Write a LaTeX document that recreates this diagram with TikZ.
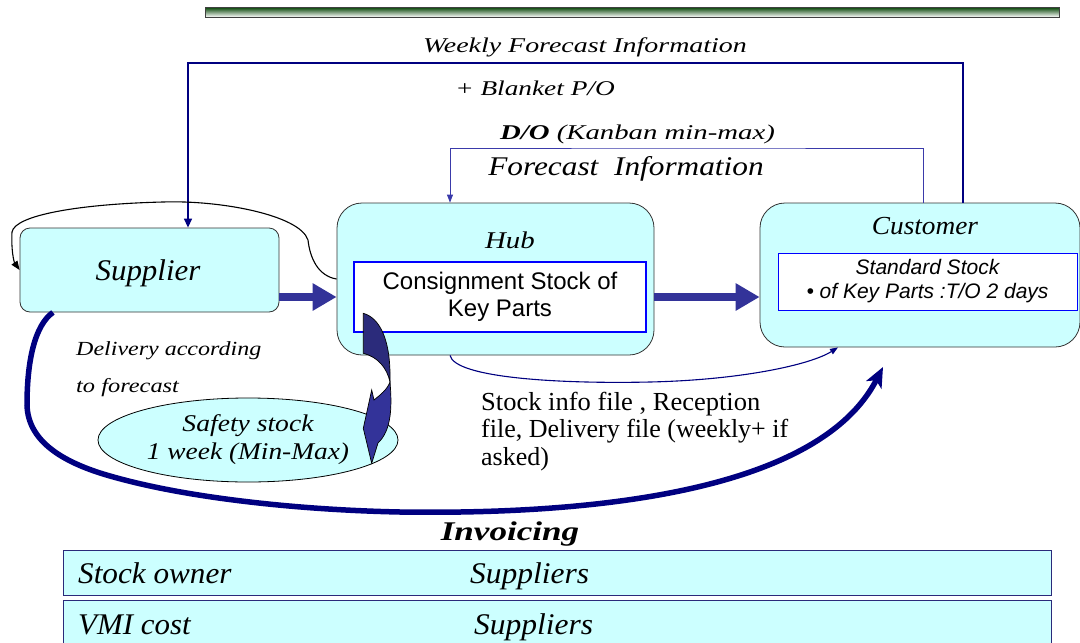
\documentclass[tikz,border=0pt]{standalone}
\usepackage{fontspec}
\usepackage{graphicx}
\setmainfont{Liberation Serif}
\setsansfont{Liberation Sans}
\usetikzlibrary{arrows.meta,shapes.geometric}

\definecolor{boxcyan}{HTML}{CCFFFF}
\definecolor{navy}{HTML}{000080}
\definecolor{fatblue}{HTML}{333399}
\definecolor{bladedark}{HTML}{2B2B7B}
\definecolor{flowblue}{HTML}{3A3AAA}
\definecolor{edgegray}{HTML}{333333}
\definecolor{rowedge}{HTML}{2A2A7A}
\definecolor{innerblue}{HTML}{0000FF}

% font size helper and horizontal widening of a label
\newcommand{\fsz}[2]{\fontsize{#1}{#2}\selectfont}
\newcommand{\widen}[2]{\scalebox{#1}[1]{#2}}

\begin{document}
\begin{tikzpicture}[x=1pt,y=-1pt,
  stage/.style={draw=edgegray, line width=0.8pt, fill=boxcyan, rounded corners=#1, inner sep=0pt},
  stage/.default=10pt,
  stockbox/.style={draw=innerblue, fill=white, inner sep=0pt},
  rowbox/.style={draw=rowedge, line width=1pt, fill=boxcyan, inner sep=0pt},
  lbl/.style={anchor=base, inner sep=0pt, font=\fsz{21}{25}\itshape},
  fat/.style={draw=fatblue, line width=8pt, -{Triangle[length=24pt,width=26pt]}},
  infoline/.style={draw=navy, line width=1.4pt, -{Triangle[length=9pt,width=8pt]}},
  doline/.style={draw=flowblue, line width=0.9pt, -{Triangle[length=8pt,width=6pt]}},
  loopline/.style={draw=black, line width=1.1pt, -{Triangle[length=9pt,width=7pt]}},
  supplyline/.style={draw=navy, line width=5.5pt, -{Stealth[length=20pt,width=17pt,inset=5pt]}},
  fileline/.style={draw=navy, line width=1.1pt, -{Triangle[length=8pt,width=6pt]}},
]
\useasboundingbox (0,0) rectangle (1080,643);
\fill[white] (0,0) rectangle (1080,643);

% title bar
\shade[top color=green!25!black, middle color=green!30!gray!45!white, bottom color=white]
  (205,7) rectangle (1059,17);
\draw[black!75, line width=0.8pt] (205,7) rectangle (1059,17);

% stages
\node[stage=10pt, minimum width=259pt, minimum height=84pt] (supplier) at (149.5,270) {};
\node[stage=25pt, minimum width=317pt, minimum height=152pt] (hub) at (495.5,279) {};
\node[stage=25pt, minimum width=320pt, minimum height=144pt] (customer) at (920,275) {};

\node[lbl, font=\fsz{30}{34}\itshape] (suplabel) at (148,280) {\widen{1.03}{Supplier}};
\node[lbl, font=\fsz{24}{28}\itshape] (hublabel) at (510,248) {\widen{1.2}{Hub}};
\node[lbl, font=\fsz{26}{30}\itshape] (custlabel) at (925,234) {\widen{1.05}{Customer}};

\node[stockbox, line width=2pt, minimum width=292pt, minimum height=70pt,
      align=center, font=\fsz{24}{27}\sffamily] (consign) at (500,297)
  {Consignment Stock of\\Key Parts};
\node[stockbox, line width=1pt, minimum width=299pt, minimum height=57pt,
      align=center, font=\fsz{21}{24}\sffamily\itshape] (stdstock) at (927.5,281.5)
  {Standard Stock\\\textbullet\ of Key Parts :T/O 2 days};

\node[ellipse, draw=black, line width=0.8pt, fill=boxcyan, minimum width=300pt,
      minimum height=84pt, inner sep=0pt, align=center, font=\fsz{24}{28}\itshape]
  (safety) at (248,440)
  {\widen{1.15}{Safety stock}\\\widen{1.14}{1 week (Min-Max)}};

% information flows on top
\coordinate (weektop) at (575,63);
\coordinate (dotop) at (690,148);
\draw[infoline] ([xshift=43pt]customer.north) |- (weektop) -| ([xshift=38.5pt]supplier.north);
\draw[doline] ([xshift=3pt]customer.north) |- (dotop) -| ([xshift=-45.5pt]hub.north);

\node[lbl] (weekly) at (585,52) {\widen{1.33}{Weekly Forecast Information}};
\node[lbl] (blanket) at (535,95) {\widen{1.3}{+ Blanket P/O}};
\node[lbl] (dorder) at (637.5,139) {\widen{1.37}{\textbf{D/O} (Kanban min-max)}};
\node[lbl, font=\fsz{27}{30}\itshape] (fcinfo) at (626,175) {\widen{1.16}{Forecast~~Information}};

% return loop from the hub back to the supplier
\draw[loopline] (hub.west) .. controls (318,276) and (310,258) .. (308,240)
  .. controls (300,215) and (220,200) .. (163,202)
  .. controls (80,204) and (15,215) .. (12,232)
  .. controls (11,250) and (14,262) .. (supplier.west);

% physical flow
\draw[fat] (supplier.east |- consign.center) -- (hub.west |- consign.center);
\draw[fat] (hub.east |- consign.center) -- (customer.west |- consign.center);

% delivery / invoicing curve
\coordinate (invtip) at (883,367);
\draw[supplyline] ([xshift=-96.5pt]supplier.south) .. controls (35,325) and (27,360) .. (27,405)
  .. controls (28,440) and (60,460) .. (100,473)
  .. controls (180,498) and (300,510) .. (400,512)
  .. controls (600,515) and (820,490) .. (invtip);

% files sent from the hub to the customer
\draw[fileline] ([xshift=-45.5pt]hub.south) .. controls (455,378) and (560,384) .. (650,382)
  .. controls (740,380) and (810,365) .. ([xshift=-82pt]customer.south);

% curved arrow from the consignment stock into the safety stock
\fill[bladedark, draw=black, line width=0.7pt]
  (363.3,313.3) .. controls (380,318) and (391,340) .. (390,382)
  .. controls (387,368) and (378,357) .. (363.3,353.3) -- cycle;
\fill[fatblue, draw=black, line width=0.7pt]
  (390,382) .. controls (392,405) and (392,430) .. (378,443)
  -- (371.7,463.3) -- (363.3,428.3) -- (371.7,390) -- (374,400)
  .. controls (380,395) and (387,390) .. (390,382) -- cycle;

% free texts
\node[lbl, anchor=base west, font=\fsz{20}{24}\itshape] (deliv1) at (76,355) {\widen{1.2}{Delivery according}};
\node[lbl, anchor=base west, font=\fsz{20}{24}\itshape] (deliv2) at (76,392) {\widen{1.22}{to forecast}};

\node[lbl, anchor=base west, font=\fsz{26}{28}] (files1) at (481,410) {\widen{1.02}{Stock info file , Reception}};
\node[lbl, anchor=base west, font=\fsz{26}{28}] (files2) at (481,437) {file, Delivery file (weekly+ if};
\node[lbl, anchor=base west, font=\fsz{26}{28}] (files3) at (481,465) {asked)};

% invoicing table
\node[lbl, font=\fsz{27}{30}\bfseries\itshape] (invoicing) at (510,540) {\widen{1.3}{Invoicing}};
\node[rowbox, minimum width=988pt, minimum height=45pt] (rowowner) at (557,573) {};
\node[rowbox, minimum width=988pt, minimum height=45pt] (rowvmi) at (557,623) {};
\node[lbl, anchor=base west, font=\fsz{30}{34}\itshape] (owner) at (78,583) {\widen{1.04}{Stock owner}};
\node[lbl, anchor=base west, font=\fsz{30}{34}\itshape] (owner2) at (470,583) {\widen{1.05}{Suppliers}};
\node[lbl, anchor=base west, font=\fsz{30}{34}\itshape] (vmi) at (78,634) {\widen{1.03}{VMI cost}};
\node[lbl, anchor=base west, font=\fsz{30}{34}\itshape] (vmi2) at (474,634) {\widen{1.05}{Suppliers}};
\end{tikzpicture}
\end{document}
